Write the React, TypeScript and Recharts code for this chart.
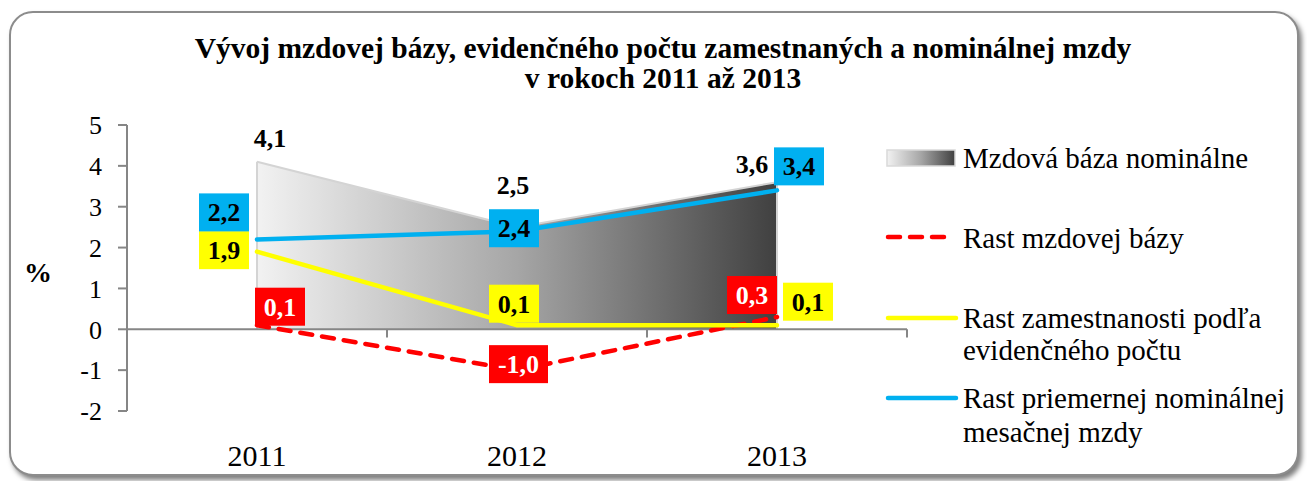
import React from 'react';
import { ComposedChart, Area, Line, XAxis, YAxis, ReferenceLine, LabelList } from 'recharts';

const years = ['2011', '2012', '2013'];
const mzdovaBaza = [4.1, 2.5, 3.6];
const rastMzdovejBazy = [0.1, -1.0, 0.3];
const rastZamestnanosti = [1.9, 0.1, 0.1];
const rastMzdy = [2.2, 2.4, 3.4];
const yTicks = [-2, -1, 0, 1, 2, 3, 4, 5];

const data = years.map((year, i) => ({
  x: i + 0.5,
  year,
  baza: mzdovaBaza[i],
  rmb: rastMzdovejBazy[i],
  rz: rastZamestnanosti[i],
  rm: rastMzdy[i],
}));
const xTicks = data.map((d) => d.x);
const boundaries = years.map((_, i) => i + 1);
const areaEdges = [data[0], data[data.length - 1]];

// label placement (styles), box-center offset from the point in px
const blueOffsets = [[-33, -27], [-3, -3], [22, -24]];
const yellowOffsets = [[-33, -1.5], [-3, -21.5], [31, -23.5]];
const redOffsets = [[23, -18.5], [1.5, -6], [-25, -22]];
const areaOffsets = [[13, -24], [-4, -42], [-25, -18]];

const FONT = '"Liberation Serif", "Times New Roman", serif';
const fmt = (v: number) => v.toFixed(1).replace('.', ',');

function pointOf(props: any) {
  const vb = props.viewBox || {};
  const x = props.x ?? vb.x;
  const y = props.y ?? vb.y;
  return { x, y };
}

const makeBoxLabel = (bg: string, color: string, offsets: number[][]) => (props: any) => {
  const { value, index } = props;
  const { x, y } = pointOf(props);
  if (x == null || y == null) return null;
  const text = fmt(Number(value));
  const w = 23 + 9 * text.length;
  const h = 38;
  const [dx, dy] = offsets[index ?? 0];
  const cx = x + dx;
  const cy = y + dy;
  return (
    <g>
      <rect x={cx - w / 2} y={cy - h / 2} width={w} height={h} fill={bg} />
      <text x={cx} y={cy + 9} textAnchor="middle" fontFamily={FONT} fontWeight="bold" fontSize={26} fill={color}>
        {text}
      </text>
    </g>
  );
};

const areaLabel = (props: any) => {
  const { value, index } = props;
  const { x, y } = pointOf(props);
  if (x == null || y == null) return null;
  const [dx, dy] = areaOffsets[index ?? 0];
  return (
    <text x={x + dx} y={y + dy + 9} textAnchor="middle" fontFamily={FONT} fontWeight="bold" fontSize={26} fill="#000">
      {fmt(Number(value))}
    </text>
  );
};

const LFS = 29;
const LegendBox = () => (
  <svg width={1307} height={481} style={{ position: 'absolute', left: 0, top: 0, pointerEvents: 'none' }}>
    <defs>
      <linearGradient id="gLeg" x1="0" y1="0" x2="1" y2="0">
        <stop offset="0" stopColor="#f2f2f2" />
        <stop offset="0.5" stopColor="#a6a6a6" />
        <stop offset="1" stopColor="#404040" />
      </linearGradient>
    </defs>
    <rect x={887} y={150} width={68} height={16} fill="url(#gLeg)" stroke="#d9d9d9" strokeWidth={1.5} />
    <text x={963} y={168} fontFamily={FONT} fontSize={LFS} fill="#000">Mzdová báza nominálne</text>
    <line x1={888} x2={948} y1={237} y2={237} stroke="#ff0000" strokeWidth={4.5} strokeDasharray="12 10" strokeLinecap="round" />
    <text x={963} y={248} fontFamily={FONT} fontSize={LFS} fill="#000">Rast mzdovej bázy</text>
    <line x1={888} x2={956} y1={318} y2={318} stroke="#ffff00" strokeWidth={4.5} strokeLinecap="round" />
    <text x={963} y={328} fontFamily={FONT} fontSize={LFS} fill="#000">Rast zamestnanosti podľa</text>
    <text x={963} y={360} fontFamily={FONT} fontSize={LFS} fill="#000">evidenčného počtu</text>
    <line x1={888} x2={956} y1={398} y2={398} stroke="#00b0f0" strokeWidth={4.5} strokeLinecap="round" />
    <text x={963} y={408} fontFamily={FONT} fontSize={LFS} fill="#000">Rast priemernej nominálnej</text>
    <text x={963} y={442} fontFamily={FONT} fontSize={LFS} fill="#000">mesačnej mzdy</text>
  </svg>
);

export default function App() {
  return (
    <div style={{ position: 'absolute', left: 0, top: 0, width: 1307, height: 481, background: '#fff', overflow: 'hidden' }}>
      <div
        style={{
          position: 'absolute',
          left: 9,
          top: 11,
          width: 1290,
          height: 465,
          border: '2px solid #8c8c8c',
          borderRadius: 24,
          boxShadow: '3px 4px 5px rgba(0,0,0,0.5)',
          boxSizing: 'border-box',
          background: '#fff',
        }}
      />
      <svg width={1307} height={481} style={{ position: 'absolute', left: 0, top: 0 }}>
        <text x={663} y={58} textAnchor="middle" fontFamily={FONT} fontWeight="bold" fontSize={29.5} fill="#000">
          Vývoj mzdovej bázy, evidenčného počtu zamestnaných a nominálnej mzdy
        </text>
        <text x={663} y={88} textAnchor="middle" fontFamily={FONT} fontWeight="bold" fontSize={29.5} fill="#000">
          v rokoch 2011 až 2013
        </text>
      </svg>
      <div style={{ position: 'absolute', left: 0, top: 0 }}>
        <ComposedChart width={1307} height={481} data={data} margin={{ top: 125, right: 400, bottom: 30, left: 67 }}>
          <defs>
            <linearGradient id="gBaza" x1="0" y1="0" x2="1" y2="0">
              <stop offset="0" stopColor="#f2f2f2" />
              <stop offset="0.5" stopColor="#a6a6a6" />
              <stop offset="1" stopColor="#404040" />
            </linearGradient>
          </defs>
          <XAxis
            dataKey="x"
            type="number"
            domain={[0, 3]}
            ticks={xTicks}
            tickFormatter={(v: number) => years[Math.floor(v)]}
            axisLine={false}
            tickLine={false}
            tickSize={0}
            tickMargin={34}
            height={40}
            tick={{ fontFamily: FONT, fontSize: 30, fill: '#000' }}
            interval={0}
          />
          <YAxis
            type="number"
            domain={[-2, 5]}
            ticks={yTicks}
            interval={0}
            width={60}
            axisLine={{ stroke: '#868686', strokeWidth: 2 }}
            tickLine={{ stroke: '#868686', strokeWidth: 2 }}
            tickSize={9}
            tickMargin={16}
            tick={{ fontFamily: FONT, fontSize: 26, fill: '#000' }}
            label={{ value: '%', position: 'left', offset: 15, dy: 4, style: { fontFamily: FONT, fontSize: 28, fontWeight: 'bold', fill: '#000' } }}
          />
          <Area
            dataKey="baza"
            type="linear"
            baseValue={0}
            fill="url(#gBaza)"
            fillOpacity={1}
            stroke="#d4d4d4"
            strokeWidth={2}
            isAnimationActive={false}
          >
            <LabelList dataKey="baza" content={areaLabel} />
          </Area>
          {areaEdges.map((d) => (
            <ReferenceLine
              key={d.year}
              segment={[{ x: d.x, y: 0 }, { x: d.x, y: d.baza }]}
              stroke="#d4d4d4"
              strokeWidth={2}
            />
          ))}
          <ReferenceLine y={0} stroke="#868686" strokeWidth={2} />
          {boundaries.map((b) => (
            <ReferenceLine
              key={b}
              segment={[{ x: b, y: 0 }, { x: b, y: -0.2 }]}
              stroke="#868686"
              strokeWidth={2}
            />
          ))}
          <Line
            dataKey="rmb"
            type="linear"
            stroke="#ff0000"
            strokeWidth={4.5}
            strokeDasharray="12 10"
            strokeLinecap="round"
            dot={false}
            activeDot={false}
            isAnimationActive={false}
          >
            <LabelList dataKey="rmb" content={makeBoxLabel('#ff0000', '#ffffff', redOffsets)} />
          </Line>
          <Line
            dataKey="rz"
            type="linear"
            stroke="#ffff00"
            strokeWidth={4.5}
            strokeLinecap="round"
            dot={false}
            activeDot={false}
            isAnimationActive={false}
          >
            <LabelList dataKey="rz" content={makeBoxLabel('#ffff00', '#000000', yellowOffsets)} />
          </Line>
          <Line
            dataKey="rm"
            type="linear"
            stroke="#00b0f0"
            strokeWidth={4.5}
            strokeLinecap="round"
            dot={false}
            activeDot={false}
            isAnimationActive={false}
          >
            <LabelList dataKey="rm" content={makeBoxLabel('#00b0f0', '#000000', blueOffsets)} />
          </Line>
        </ComposedChart>
      </div>
      <LegendBox />
    </div>
  );
}
